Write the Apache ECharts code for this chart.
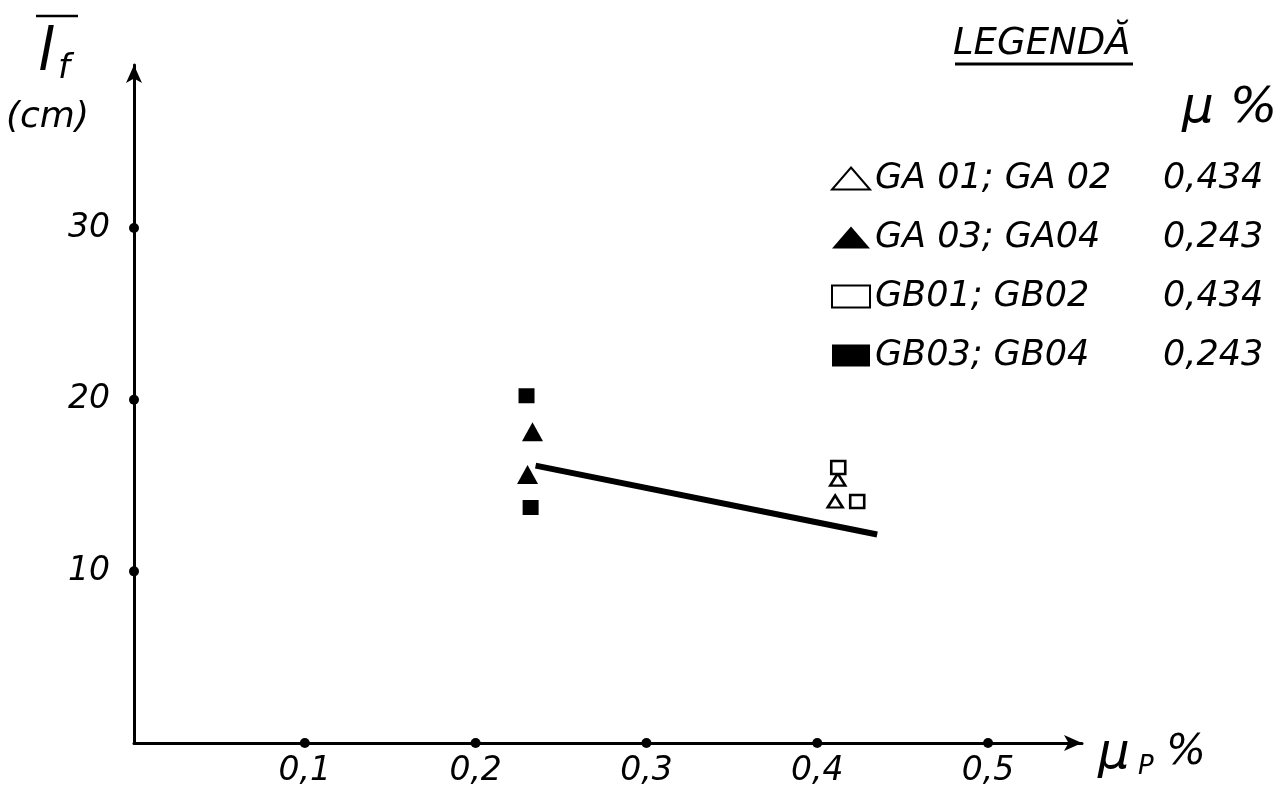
<!DOCTYPE html>
<html>
<head>
<meta charset="utf-8">
<script src="https://cdn.jsdelivr.net/npm/echarts@6/dist/echarts.min.js"></script>
<style>
  html, body { margin: 0; padding: 0; background: #fff; }
  #chart { width: 1282px; height: 791px; }
</style>
</head>
<body>
<div id="chart"></div>
<script>
// tick values on both axes
const xTicks = [0.1, 0.2, 0.3, 0.4, 0.5];
const yTicks = [10, 20, 30];

// legend rows
const seriesNames = ["GA 01; GA 02", "GA 03; GA04", "GB01; GB02", "GB03; GB04"];
const muValues = ["0,434", "0,243", "0,434", "0,243"];

// measured points [mu_p %, l_f cm]
const gaHollow = [[0.412, 15.35], [0.4105, 14.07]];
const gaFilled = [[0.2333, 18.14], [0.2304, 15.64]];
const gbHollow = [[0.4123, 16.05], [0.4234, 14.07]];
const gbFilled = [[0.2298, 20.23], [0.2322, 13.72]];
const trendLine = [[0.2351, 16.16], [0.4351, 12.15]];

const FONT = "DejaVu Sans";
const chart = echarts.init(document.getElementById("chart"));

const muByName = {};
seriesNames.forEach((n, i) => { muByName[n] = muValues[i]; });

const comma = (v) => String(v).replace(".", ",");

chart.setOption({
  backgroundColor: "#fff",
  animation: false,
  grid: { left: 134, right: 200, top: 65, bottom: 48, containLabel: false },
  xAxis: {
    type: "value",
    min: 0,
    max: 0.555,
    interval: 0.1,
    axisLine: { lineStyle: { color: "#000", width: 3 }, symbol: ["none", "arrow"], symbolSize: [12, 18] },
    axisTick: { show: false },
    splitLine: { show: false },
    axisLabel: {
      margin: 12,
      color: "#000",
      fontFamily: FONT,
      fontStyle: "italic",
      fontSize: 33,
      showMaxLabel: false,
      formatter: (v) => (v === 0 ? "" : comma(Math.round(v * 10) / 10)),
    },
  },
  yAxis: {
    type: "value",
    min: 0,
    max: 39.5,
    interval: 10,
    axisLine: { lineStyle: { color: "#000", width: 3 }, symbol: ["none", "arrow"], symbolSize: [12, 18] },
    axisTick: { show: false },
    splitLine: { show: false },
    axisLabel: {
      margin: 24,
      color: "#000",
      fontFamily: FONT,
      fontStyle: "italic",
      fontSize: 33,
      showMaxLabel: false,
      formatter: (v) => (v === 0 ? "" : String(v)),
    },
  },
  legend: {
    data: seriesNames,
    orient: "vertical",
    left: 826,
    top: 156,
    itemGap: 24,
    itemWidth: 38,
    itemHeight: 22,
    formatter: (name) => "{n|" + name + "}{v|" + muByName[name] + "}",
    textStyle: {
      color: "#000",
      fontFamily: FONT,
      fontStyle: "italic",
      fontSize: 35,
      rich: {
        n: { width: 288, fontFamily: FONT, fontStyle: "italic", fontSize: 35, color: "#000" },
        v: { fontFamily: FONT, fontStyle: "italic", fontSize: 35, color: "#000" },
      },
    },
  },
  graphic: [
    // y-axis name: mean crack spacing with overbar
    { type: "line", shape: { x1: 36, y1: 16, x2: 78, y2: 16 }, style: { stroke: "#000", lineWidth: 2.5 } },
    { type: "text", left: 38, top: 26, style: { text: "l", font: "italic 58px " + FONT, fill: "#000" } },
    { type: "text", left: 58, top: 52, style: { text: "f", font: "italic 34px " + FONT, fill: "#000" } },
    { type: "text", left: 6, top: 100, style: { text: "(cm)", font: "italic 36px " + FONT, fill: "#000" } },
    // x-axis name
    { type: "text", left: 1098, top: 730, style: { text: "μ", font: "italic 50px " + FONT, fill: "#000" } },
    { type: "text", left: 1138, top: 754, style: { text: "P", font: "italic 26px " + FONT, fill: "#000" } },
    { type: "text", left: 1166, top: 732, style: { text: "%", font: "italic 42px " + FONT, fill: "#000" } },
    // legend heading
    { type: "text", left: 953, top: 26, style: { text: "LEGENDĂ", font: "italic 37px " + FONT, fill: "#000" } },
    { type: "line", shape: { x1: 955, y1: 64, x2: 1133, y2: 64 }, style: { stroke: "#000", lineWidth: 3 } },
    { type: "text", left: 1182, top: 84, style: { text: "μ %", font: "italic 50px " + FONT, fill: "#000" } },
  ],
  series: [
    {
      name: seriesNames[0],
      type: "scatter",
      symbol: "triangle",
      symbolSize: [15, 12],
      itemStyle: { color: "#fff", borderColor: "#000", borderWidth: 2.5, opacity: 1 },
      data: gaHollow,
    },
    {
      name: seriesNames[1],
      type: "scatter",
      symbol: "triangle",
      symbolSize: [21, 19],
      itemStyle: { color: "#000", opacity: 1 },
      data: gaFilled,
    },
    {
      name: seriesNames[2],
      type: "scatter",
      symbol: "rect",
      symbolSize: [14, 13],
      itemStyle: { color: "#fff", borderColor: "#000", borderWidth: 2.5, opacity: 1 },
      data: gbHollow,
    },
    {
      name: seriesNames[3],
      type: "scatter",
      symbol: "rect",
      symbolSize: [16, 15],
      itemStyle: { color: "#000", opacity: 1 },
      data: gbFilled,
    },
    {
      name: "trend",
      type: "line",
      symbol: "none",
      lineStyle: { color: "#000", width: 6 },
      data: trendLine,
      z: 1,
    },
    {
      name: "xdots",
      type: "scatter",
      symbol: "circle",
      symbolSize: 10,
      silent: true,
      itemStyle: { color: "#000", opacity: 1 },
      data: xTicks.map((t) => [t, 0]),
    },
    {
      name: "ydots",
      type: "scatter",
      symbol: "circle",
      symbolSize: 10,
      silent: true,
      itemStyle: { color: "#000", opacity: 1 },
      data: yTicks.map((t) => [0, t]),
    },
  ],
});
</script>
</body>
</html>
